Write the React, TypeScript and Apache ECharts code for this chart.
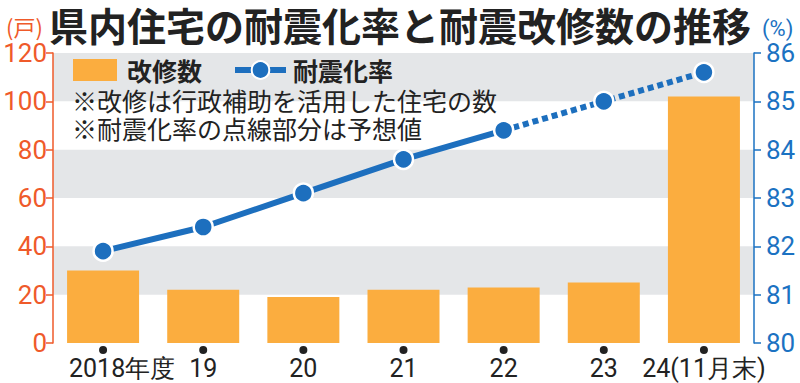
import React, { useEffect, useRef } from "react";
import * as echarts from "echarts";

const categories = ["2018年度", "19", "20", "21", "22", "23", "24(11月末)"];
const renovations = [30, 22, 19, 22, 23, 25, 102];
const rateActual = [81.9, 82.4, 83.1, 83.8, 84.4, null, null];
const rateForecast = [null, null, null, null, 84.4, 85.0, 85.6];
const leftTicks = { min: 0, max: 120, interval: 20 };
const rightTicks = { min: 80, max: 86, interval: 1 };

const ORANGE_BAR = "#fbad3f";
const ORANGE_AXIS = "#ef5a2a";
const BLUE = "#1d6fbe";
const BLUE_AXIS = "#1b72c2";
const GRAY = "#e4e6e8";
const NUM_FONT = "Roboto, 'Liberation Sans', sans-serif";
const JP_FONT = "'Noto Sans CJK JP', 'Noto Sans', sans-serif";

export default function App() {
  const ref = useRef<HTMLDivElement>(null);
  useEffect(() => {
    if (!ref.current) return;
    const chart = echarts.init(ref.current, null, { renderer: "svg" });
    chart.setOption({
      animation: false,
      backgroundColor: "#ffffff",
      grid: { left: 53, right: 46, top: 53, bottom: 40, containLabel: false },
      legend: [
        {
          data: [{ name: "改修数", icon: "rect" }],
          left: 73,
          top: 57,
          padding: 0,
          itemWidth: 44,
          itemHeight: 22,
          selectedMode: false,
          textStyle: { fontFamily: JP_FONT, fontWeight: "bold", fontSize: 25, lineHeight: 26, color: "#222", padding: [0, 0, 0, 5] },
        },
        {
          data: ["耐震化率"],
          left: 232,
          top: 57,
          padding: 0,
          itemWidth: 51,
          itemHeight: 22,
          selectedMode: false,
          lineStyle: { width: 6 },
          textStyle: { fontFamily: JP_FONT, fontWeight: "bold", fontSize: 25, lineHeight: 26, color: "#222", padding: [0, 0, 0, 2] },
        },
      ],
      xAxis: [
        {
          type: "category",
          data: categories,
          axisLine: { show: false },
          axisTick: { show: false },
          axisLabel: {
            interval: 0,
            margin: 13,
            color: "#222",
            fontFamily: NUM_FONT,
            fontSize: 25,
            formatter: (v: string, i: number) => (i === 0 ? "{a|" + v + "}" : v),
            rich: {
              a: { padding: [0, 0, 0, 38], fontFamily: NUM_FONT, fontSize: 25, color: "#222" },
            },
          },
        },
        {
          type: "category",
          data: categories,
          position: "bottom",
          axisLine: { show: false },
          axisTick: { show: false },
          axisLabel: {
            interval: 0,
            margin: 3,
            formatter: () => "{d|}",
            rich: { d: { width: 8, height: 8, backgroundColor: "#222", borderRadius: 4 } },
          },
        },
      ],
      yAxis: [
        {
          type: "value",
          ...leftTicks,
          position: "left",
          axisLine: { show: true, lineStyle: { color: ORANGE_AXIS, width: 1.5 } },
          axisTick: { show: true, length: 7, lineStyle: { color: ORANGE_AXIS, width: 1.5 } },
          axisLabel: { color: ORANGE_AXIS, fontFamily: NUM_FONT, fontSize: 26, margin: 6 },
          splitLine: { show: false },
          splitArea: { show: true, areaStyle: { color: ["rgba(255,255,255,0)", GRAY] } },
        },
        {
          type: "value",
          ...rightTicks,
          position: "right",
          axisLine: { show: true, lineStyle: { color: BLUE_AXIS, width: 1.5 } },
          axisTick: { show: true, length: 7, lineStyle: { color: BLUE_AXIS, width: 1.5 } },
          axisLabel: { color: BLUE_AXIS, fontFamily: NUM_FONT, fontSize: 26, margin: 12 },
          splitLine: { show: false },
          splitArea: { show: false },
        },
      ],
      series: [
        {
          name: "改修数",
          type: "bar",
          data: renovations,
          barWidth: 72,
          itemStyle: { color: ORANGE_BAR },
          yAxisIndex: 0,
          xAxisIndex: 0,
        },
        {
          name: "耐震化率",
          type: "line",
          data: rateActual,
          yAxisIndex: 1,
          xAxisIndex: 0,
          symbol: "circle",
          symbolSize: 19,
          lineStyle: { color: BLUE, width: 6 },
          itemStyle: { color: BLUE, borderColor: "#fff", borderWidth: 2.5 },
          z: 5,
        },
        {
          name: "耐震化率",
          type: "line",
          data: rateForecast,
          yAxisIndex: 1,
          xAxisIndex: 0,
          symbol: "circle",
          symbolSize: 19,
          lineStyle: { color: BLUE, width: 6, type: [6, 4] },
          itemStyle: { color: BLUE, borderColor: "#fff", borderWidth: 2.5 },
          z: 4,
        },
      ],
      graphic: [
        {
          type: "text",
          left: 49,
          top: 4,
          z: 100,
          style: { text: "県内住宅の耐震化率と耐震改修数の推移", fontFamily: JP_FONT, fontWeight: "bold", fontSize: 39, lineHeight: 40, fill: "#222" },
        },
        {
          type: "text",
          left: 6,
          top: 15,
          z: 100,
          style: { text: "(戸)", fontFamily: JP_FONT, fontSize: 22, fill: ORANGE_AXIS },
        },
        {
          type: "text",
          left: 762,
          top: 17,
          z: 100,
          style: { text: "(%)", fontFamily: NUM_FONT, fontSize: 22, fill: BLUE_AXIS },
        },
        {
          type: "text",
          left: 72,
          top: 86,
          z: 100,
          style: { text: "※改修は行政補助を活用した住宅の数", fontFamily: JP_FONT, fontSize: 25, lineHeight: 27, fill: "#222" },
        },
        {
          type: "text",
          left: 72,
          top: 114,
          z: 100,
          style: { text: "※耐震化率の点線部分は予想値", fontFamily: JP_FONT, fontSize: 25, lineHeight: 27, fill: "#222" },
        },
      ],
    });
    return () => chart.dispose();
  }, []);
  return <div ref={ref} style={{ width: 800, height: 383, position: "absolute", left: 0, top: 0 }} />;
}
